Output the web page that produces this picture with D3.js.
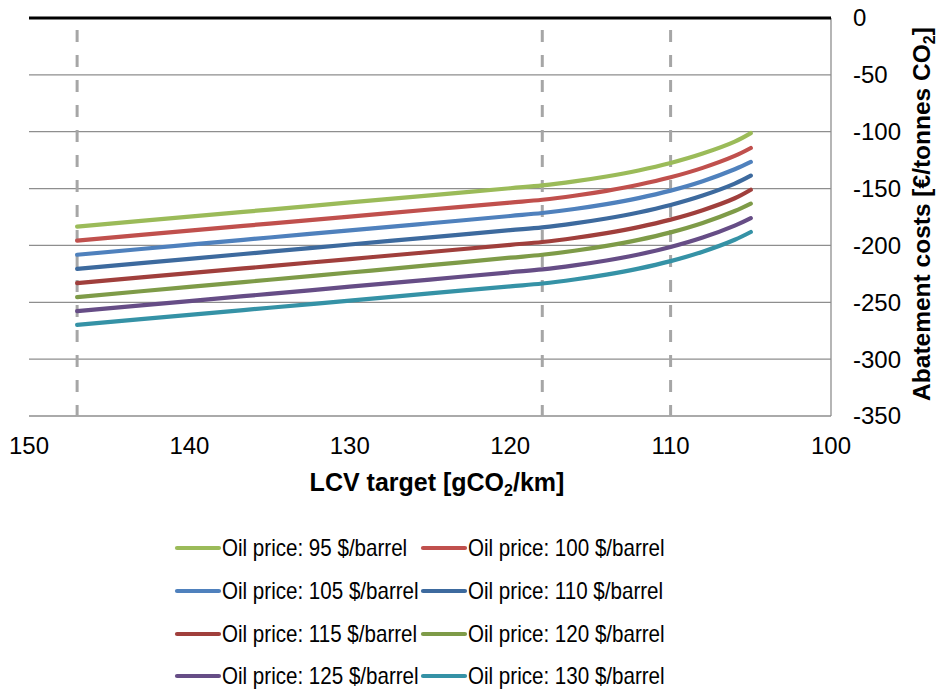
<!DOCTYPE html>
<html>
<head>
<meta charset="utf-8">
<script src="https://cdn.jsdelivr.net/npm/d3@7"></script>
<style>
  html, body { margin: 0; padding: 0; background: #fff; }
  svg { display: block; font-family: "Liberation Sans", Arial, sans-serif; }
</style>
</head>
<body>
<svg id="chart" width="941" height="693"></svg>
<script>
// LCV target on the horizontal axis (gCO2/km)
const lcvTargets = [147, 140, 135, 130, 125, 120, 118, 116, 114, 112, 110, 108, 106, 105];

// Abatement costs (€/tonnes CO2) per oil price scenario
const cost95  = [-183.5, -174.7, -168.5, -162.2, -156.0, -149.7, -147.2, -143.7, -139.4, -134.1, -127.5, -119.2, -108.7, -101.2];
const cost100 = [-195.8, -187.0, -180.8, -174.6, -168.4, -162.3, -159.8, -156.3, -152.0, -146.7, -140.1, -131.8, -121.3, -114.3];
const cost105 = [-208.2, -199.3, -193.0, -186.8, -180.5, -174.1, -171.5, -168.0, -163.7, -158.4, -151.8, -143.5, -133.0, -126.6];
const cost110 = [-220.6, -211.8, -205.5, -199.2, -192.9, -186.6, -184.1, -180.6, -176.3, -171.0, -164.4, -156.1, -145.6, -138.6];
const cost115 = [-233.1, -224.4, -218.2, -212.0, -205.8, -199.5, -197.0, -193.5, -189.2, -183.9, -177.3, -169.0, -158.5, -151.0];
const cost120 = [-245.4, -236.5, -230.2, -223.8, -217.4, -210.8, -208.2, -204.7, -200.4, -195.1, -188.5, -180.2, -169.7, -163.2];
const cost125 = [-257.7, -248.9, -242.6, -236.3, -230.0, -223.6, -221.1, -217.6, -213.3, -208.0, -201.4, -193.1, -182.6, -176.0];
const cost130 = [-269.8, -261.0, -254.8, -248.5, -242.2, -236.0, -233.5, -230.0, -225.7, -220.4, -213.8, -205.5, -195.0, -188.2];

const oilPrices = [95, 100, 105, 110, 115, 120, 125, 130];
const seriesValues = [cost95, cost100, cost105, cost110, cost115, cost120, cost125, cost130];
const seriesColors = ["#9BBB59", "#C0504D", "#4F81BD", "#3D6A9E", "#A03F3C", "#7E9B48", "#664D86", "#3592A6"];

// Axis ticks and reference targets
const xTicks = [150, 140, 130, 120, 110, 100];
const yTicks = [0, -50, -100, -150, -200, -250, -300, -350];
const markerTargets = [147, 118, 110];

const svg = d3.select("#chart");
const plotLeft = 29, plotRight = 831, plotTop = 18, plotBottom = 416;

const x = d3.scaleLinear().domain([150, 100]).range([plotLeft, plotRight]);
const y = d3.scaleLinear().domain([0, -350]).range([plotTop, plotBottom]);

// Horizontal gridlines
svg.append("g")
  .selectAll("line")
  .data(yTicks.filter(v => v !== 0))
  .join("line")
  .attr("x1", plotLeft).attr("x2", plotRight)
  .attr("y1", d => y(d)).attr("y2", d => y(d))
  .attr("stroke", "#8e8e8e").attr("stroke-width", 1.3);

// Right-hand axis border
svg.append("line")
  .attr("x1", plotRight).attr("x2", plotRight)
  .attr("y1", y(0)).attr("y2", y(-350))
  .attr("stroke", "#8e8e8e").attr("stroke-width", 1.3);

// Dashed reference lines at selected targets
svg.append("g")
  .selectAll("line")
  .data(markerTargets)
  .join("line")
  .attr("x1", d => x(d)).attr("x2", d => x(d))
  .attr("y1", y(0)).attr("y2", y(-350))
  .attr("stroke", "#a6a6a6").attr("stroke-width", 3)
  .attr("stroke-dasharray", "12,13")
  .attr("stroke-dashoffset", 13);

// Scenario curves
const line = d3.line()
  .x((d, i) => x(lcvTargets[i]))
  .y(d => y(d))
  .curve(d3.curveCatmullRom.alpha(0.5));

svg.append("g")
  .selectAll("path")
  .data(seriesValues)
  .join("path")
  .attr("d", d => line(d))
  .attr("fill", "none")
  .attr("stroke", (d, i) => seriesColors[i])
  .attr("stroke-width", 4.2)
  .attr("stroke-linecap", "round")
  .attr("stroke-linejoin", "round");

// Zero line
svg.append("line")
  .attr("x1", plotLeft).attr("x2", plotRight)
  .attr("y1", y(0)).attr("y2", y(0))
  .attr("stroke", "#000").attr("stroke-width", 3);

// Right axis labels
svg.append("g")
  .selectAll("text")
  .data(yTicks)
  .join("text")
  .attr("x", 853)
  .attr("y", d => y(d))
  .attr("dy", "0.35em")
  .attr("font-size", 24)
  .attr("fill", "#000")
  .text(d => d);

// Bottom axis labels
svg.append("g")
  .selectAll("text")
  .data(xTicks)
  .join("text")
  .attr("x", d => x(d))
  .attr("y", 454)
  .attr("text-anchor", "middle")
  .attr("font-size", 24)
  .attr("fill", "#000")
  .text(d => d);

// Axis titles
const xTitle = svg.append("text")
  .attr("x", 437).attr("y", 491)
  .attr("text-anchor", "middle")
  .attr("font-size", 25).attr("font-weight", "bold");
xTitle.append("tspan").text("LCV target [gCO");
xTitle.append("tspan").attr("font-size", 16).attr("dy", 5).text("2");
xTitle.append("tspan").attr("dy", -5).text("/km]");

const yTitle = svg.append("text")
  .attr("transform", "translate(930,214) rotate(-90)")
  .attr("text-anchor", "middle")
  .attr("font-size", 24.5).attr("font-weight", "bold");
yTitle.append("tspan").text("Abatement costs [€/tonnes CO");
yTitle.append("tspan").attr("font-size", 16).attr("dy", 5).text("2");
yTitle.append("tspan").attr("dy", -5).text("]");

// Legend: two columns, four rows
const legendCols = [177, 423];
const legendRows = [548, 591, 634, 676];
const legend = svg.append("g")
  .selectAll("g")
  .data(oilPrices)
  .join("g")
  .attr("transform", (d, i) => `translate(${legendCols[i % 2]},${legendRows[Math.floor(i / 2)]})`);

legend.append("line")
  .attr("x1", 0).attr("x2", 42)
  .attr("y1", 0).attr("y2", 0)
  .attr("stroke", (d, i) => seriesColors[i])
  .attr("stroke-width", 4.2)
  .attr("stroke-linecap", "round");

legend.append("text")
  .attr("x", 45)
  .attr("dy", "0.35em")
  .attr("font-size", 24)
  .attr("fill", "#000")
  .text(d => `Oil price: ${d} $/barrel`)
  .each(function () {
    const w = this.getComputedTextLength();
    d3.select(this)
      .attr("textLength", w * 0.857)
      .attr("lengthAdjust", "spacingAndGlyphs");
  });
</script>
</body>
</html>
